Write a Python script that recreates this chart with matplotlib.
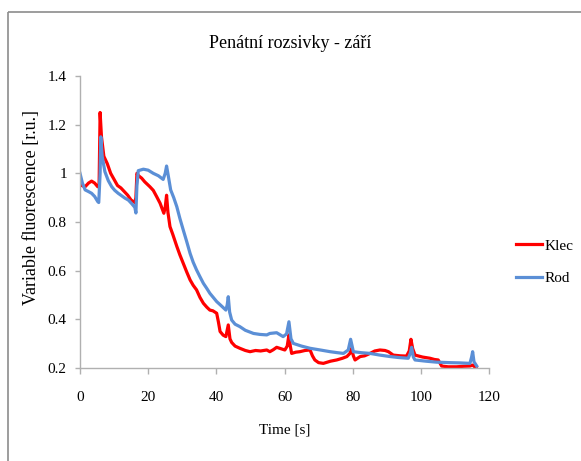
import matplotlib
matplotlib.use("Agg")
import matplotlib.pyplot as plt
from matplotlib.lines import Line2D

# Klec series (time in s, variable fluorescence in r.u.)
klec_t = [0.5, 1.5, 2.5, 3.4, 4.3, 5.2, 5.6, 5.9, 6.3, 7.0, 8.0, 9.0, 10.0, 11.0, 12.0,
          13.0, 14.0, 15.0, 16.1, 16.4, 16.7, 17.2, 18.1, 19.0, 20.5, 21.5, 22.5, 23.5,
          24.6, 25.0, 25.4, 25.8, 26.4, 27.2, 28.4, 29.3, 30.3, 31.3, 32.3, 33.2, 34.2,
          35.2, 36.2, 37.2, 38.1, 39.0, 40.1, 40.6, 41.1, 42.0, 42.8, 43.5, 44.0, 44.5,
          45.5, 46.9, 48.5, 49.9, 51.5, 53.0, 54.8, 55.7, 56.7, 57.7, 58.8, 60.1, 60.8,
          61.3, 61.7, 62.1, 63.3, 64.5, 66.0, 67.5, 68.2, 68.9, 70.0, 71.4, 73.5, 75.3,
          77.0, 78.3, 79.2, 79.7, 80.2, 80.7, 82.2, 83.5, 85.1, 86.5, 88.0, 89.5, 90.5,
          91.9, 94.0, 95.8, 96.6, 97.1, 97.6, 98.3, 100.5, 102.7, 104.0, 105.1, 106.1,
          108.0, 110.5, 112.5, 114.4, 115.2, 116.2]
klec_f = [0.95, 0.945, 0.96, 0.968, 0.96, 0.945, 0.95, 1.25, 1.15, 1.07, 1.04, 1.0, 0.975,
          0.95, 0.94, 0.925, 0.91, 0.89, 0.88, 0.9, 1.0, 0.99, 0.98, 0.965, 0.945, 0.93,
          0.904, 0.877, 0.836, 0.86, 0.91, 0.84, 0.781, 0.75, 0.70, 0.665, 0.63, 0.595,
          0.562, 0.54, 0.521, 0.49, 0.466, 0.45, 0.438, 0.435, 0.425, 0.39, 0.35, 0.335,
          0.329, 0.377, 0.32, 0.305, 0.29, 0.281, 0.272, 0.267, 0.272, 0.27, 0.274, 0.267,
          0.275, 0.285, 0.28, 0.274, 0.29, 0.336, 0.29, 0.26, 0.265, 0.267, 0.272, 0.274,
          0.25, 0.233, 0.222, 0.219, 0.228, 0.233, 0.24, 0.247, 0.26, 0.281, 0.25, 0.233,
          0.247, 0.25, 0.26, 0.27, 0.274, 0.272, 0.267, 0.253, 0.25, 0.249, 0.27, 0.318,
          0.28, 0.253, 0.245, 0.24, 0.235, 0.233, 0.208, 0.205, 0.205, 0.207, 0.208, 0.212,
          0.2]

# Rod series
rod_t = [0.0, 0.7, 1.5, 2.5, 3.4, 4.3, 5.2, 5.5, 5.9, 6.1, 6.5, 7.3, 8.3, 9.3, 10.2, 11.2,
         12.2, 13.2, 14.2, 15.2, 16.1, 16.4, 16.7, 17.1, 18.6, 20.0, 21.5, 23.0, 24.4,
         25.0, 25.4, 25.9, 26.6, 27.5, 28.4, 29.3, 30.3, 31.3, 32.3, 33.2, 34.2, 35.2,
         36.2, 37.2, 38.1, 39.1, 40.1, 41.5, 42.8, 43.2, 43.5, 43.9, 44.5, 45.5, 46.9,
         48.5, 50.9, 52.8, 54.8, 55.7, 57.7, 59.6, 60.6, 61.3, 61.9, 62.6, 65.0, 67.5,
         70.5, 73.4, 75.5, 77.3, 78.7, 79.4, 80.0, 80.2, 82.5, 85.1, 88.0, 91.0, 93.5,
         96.3, 96.9, 97.3, 97.8, 98.3, 101.5, 104.6, 108.6, 111.5, 114.4, 114.9, 115.2,
         115.6, 115.9, 116.4]
rod_f = [1.0, 0.96, 0.932, 0.925, 0.918, 0.905, 0.884, 0.88, 1.0, 1.15, 1.07, 1.007, 0.97,
         0.945, 0.93, 0.918, 0.908, 0.898, 0.89, 0.875, 0.86, 0.837, 0.95, 1.011, 1.017,
         1.013, 1.0, 0.99, 0.975, 1.0, 1.03, 0.99, 0.932, 0.9, 0.863, 0.815, 0.767, 0.72,
         0.671, 0.635, 0.603, 0.575, 0.548, 0.527, 0.507, 0.49, 0.473, 0.455, 0.438, 0.46,
         0.493, 0.43, 0.397, 0.38, 0.37, 0.355, 0.342, 0.338, 0.336, 0.342, 0.345, 0.329,
         0.34, 0.39, 0.32, 0.301, 0.29, 0.281, 0.274, 0.267, 0.263, 0.26, 0.274, 0.318,
         0.28, 0.267, 0.263, 0.26, 0.253, 0.247, 0.243, 0.24, 0.26, 0.285, 0.245, 0.233,
         0.228, 0.224, 0.222, 0.221, 0.219, 0.245, 0.267, 0.225, 0.219, 0.208]

x_ticks = [0, 20, 40, 60, 80, 100, 120]
y_ticks = [0.2, 0.4, 0.6, 0.8, 1.0, 1.2, 1.4]
y_tick_labels = ["0.2", "0.4", "0.6", "0.8", "1", "1.2", "1.4"]

plt.rcParams["font.family"] = ["Liberation Serif", "DejaVu Serif"]
grey = "#b0b0b0"

fig = plt.figure(figsize=(5.81, 4.61), dpi=100)

# chart area border: only the top and left edges fall inside the image
top = 1 - 12 / 461
left = 8 / 581
fig.add_artist(Line2D([left, 1.02], [top, top], transform=fig.transFigure,
                      color="#8c8c8c", linewidth=1.2, solid_capstyle="butt"))
fig.add_artist(Line2D([left, left], [-0.02, top], transform=fig.transFigure,
                      color="#8c8c8c", linewidth=1.2, solid_capstyle="butt"))

ax = fig.add_axes([80 / 581, 1 - 368 / 461, 409 / 581, 292 / 461])
ax.plot(klec_t, klec_f, color="#ff0000", linewidth=2.3, label="Klec")
ax.plot(rod_t, rod_f, color="#5b8fd6", linewidth=2.3, label="Rod")

ax.set_xlim(0, 120)
ax.set_ylim(0.2, 1.4)
ax.set_xticks(x_ticks)
ax.set_yticks(y_ticks)
ax.set_yticklabels(y_tick_labels)

for side in ["top", "right"]:
    ax.spines[side].set_visible(False)
for side in ["left", "bottom"]:
    ax.spines[side].set_color(grey)
    ax.spines[side].set_linewidth(1.0)

ax.tick_params(axis="x", direction="out", length=4.5, width=1.0, color=grey,
               pad=12, labelsize=11)
ax.tick_params(axis="y", direction="out", length=3.5, width=1.0, color=grey,
               pad=6, labelsize=11)

ax.set_xlabel("Time [s]", fontsize=11)
ax.xaxis.set_label_coords(0.5, -0.19)
ax.set_ylabel("Variable fluorescence [r.u.]", fontsize=13)
ax.yaxis.set_label_coords(-0.098, 0.55)

fig.text(290 / 581, 1 - 43 / 461, "Penátní rozsivky - září", fontsize=13,
         ha="center", va="center")

fig.legend(loc="center left", bbox_to_anchor=(516 / 581, 1 - 262 / 461),
           frameon=False, fontsize=11, handlelength=1.7, handletextpad=0.15,
           labelspacing=1.2, borderpad=0, borderaxespad=0)

fig.savefig("out.png", dpi=100)
